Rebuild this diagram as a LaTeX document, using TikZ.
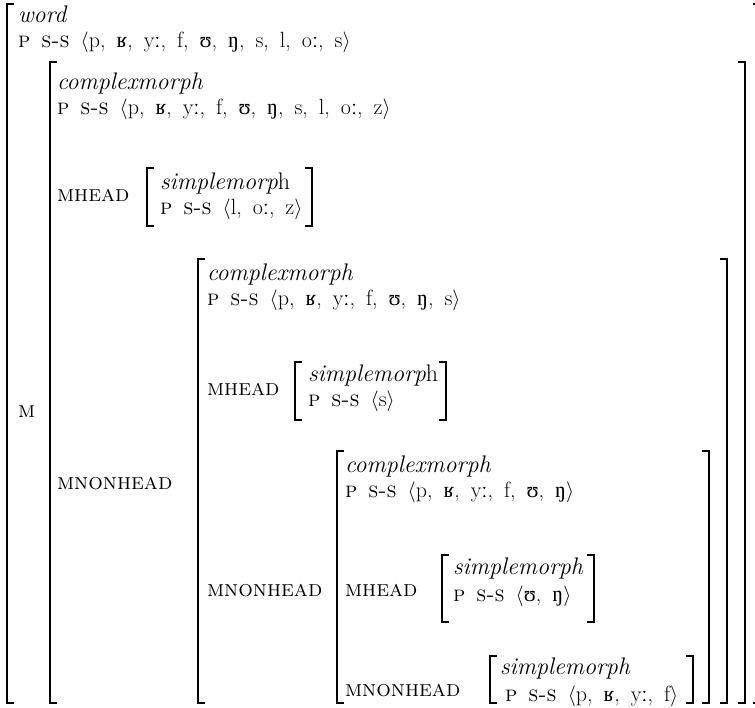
\documentclass[tikz,border=0pt]{standalone}
\usepackage{fontspec}
\newfontfamily\ipafont{Liberation Serif}
\newcommand{\ip}[1]{{\ipafont #1}}
\newcommand{\sck}[1]{{\addfontfeature{LetterSpace=5}\scshape #1}}
\newcommand{\pss}{\sck{p s-s}}
\newcommand{\segfont}{\fontsize{22}{26}\selectfont\spaceskip=11pt plus 1pt\relax}
% square brackets of one AVM: left x, right x, top y, bottom y
\newcommand{\avmbr}[4]{%
  \draw[brk] (#1+7,#3) -| (#1,#4) -- (#1+7,#4);
  \draw[brk] (#2-7,#3) -| (#2,#4) -- (#2-7,#4);}

\begin{document}
\begin{tikzpicture}[x=1pt,y=-1pt,
  every node/.style={inner sep=0pt,outer sep=0pt,font=\fontsize{24}{28}\selectfont},
  txt/.style={anchor=base west},
  seg/.style={anchor=base west,font=\segfont},
  attr/.style={anchor=base west,font=\fontsize{23}{27}\selectfont},
  brk/.style={line width=1.4pt}]
\useasboundingbox (0,0) rectangle (755,707);
% word
\node[txt] (w-type) at (18,22) {\textit{word}};
\node[seg] (w-pss) at (18,47) {\pss\ $\langle$p, \ip{ʁ}, y\ip{ː}, f, \ip{ʊ}, \ip{ŋ}, s, l, o\ip{ː}, s$\rangle$};
\node[attr] (w-m) at (18,417) {\sck{m}};
% value of m
\node[txt] (m-type) at (57,89) {\textit{complexmorph}};
\node[seg] (m-pss) at (57,114) {\pss\ $\langle$p, \ip{ʁ}, y\ip{ː}, f, \ip{ʊ}, \ip{ŋ}, s, l, o\ip{ː}, z$\rangle$};
\node[attr] (m-hd) at (57,201) {\sck{mhead}};
\node[txt] (m-hd-type) at (160,189) {\textit{simplemorp}h};
\node[seg] (m-hd-pss) at (160,214) {\pss\ $\langle$l, o\ip{ː}, z$\rangle$};
\node[attr] (m-nhd) at (57,489) {\sck{mnonhead}};
% value of m|mnonhead
\node[txt] (n-type) at (207,280) {\textit{complexmorph}};
\node[seg] (n-pss) at (207,305) {\pss\ $\langle$p, \ip{ʁ}, y\ip{ː}, f, \ip{ʊ}, \ip{ŋ}, s$\rangle$};
\node[attr] (n-hd) at (207,395) {\sck{mhead}};
\node[txt] (n-hd-type) at (308,381) {\textit{simplemorp}h};
\node[seg] (n-hd-pss) at (308,406) {\pss\ $\langle$s$\rangle$};
\node[attr] (n-nhd) at (207,596) {\sck{mnonhead}};
% innermost complexmorph
\node[txt] (o-type) at (345,472) {\textit{complexmorph}};
\node[seg] (o-pss) at (345,497) {\pss\ $\langle$p, \ip{ʁ}, y\ip{ː}, f, \ip{ʊ}, \ip{ŋ}$\rangle$};
\node[attr] (o-hd) at (345,596) {\sck{mhead}};
\node[txt] (o-hd-type) at (453,574) {\textit{simplemorph}};
\node[seg] (o-hd-pss) at (453,601) {\pss\ $\langle$\ip{ʊ}, \ip{ŋ}$\rangle$};
\node[attr] (o-nhd) at (345,696) {\sck{mnonhead}};
\node[txt] (o-nhd-type) at (500,674) {\textit{simplemorph}};
\node[seg] (o-nhd-pss) at (505,701) {\pss\ $\langle$p, \ip{ʁ}, y\ip{ː}, f$\rangle$};
% brackets
\avmbr{7}{760}{4}{703}
\avmbr{50}{745}{62}{703}
\avmbr{147}{312}{168}{226}
\avmbr{198}{727}{259}{703}
\avmbr{295}{446}{362}{420}
\avmbr{337}{709}{451}{703}
\avmbr{442}{594}{555}{622}
\avmbr{490}{693}{656}{703}
\end{tikzpicture}
\end{document}
